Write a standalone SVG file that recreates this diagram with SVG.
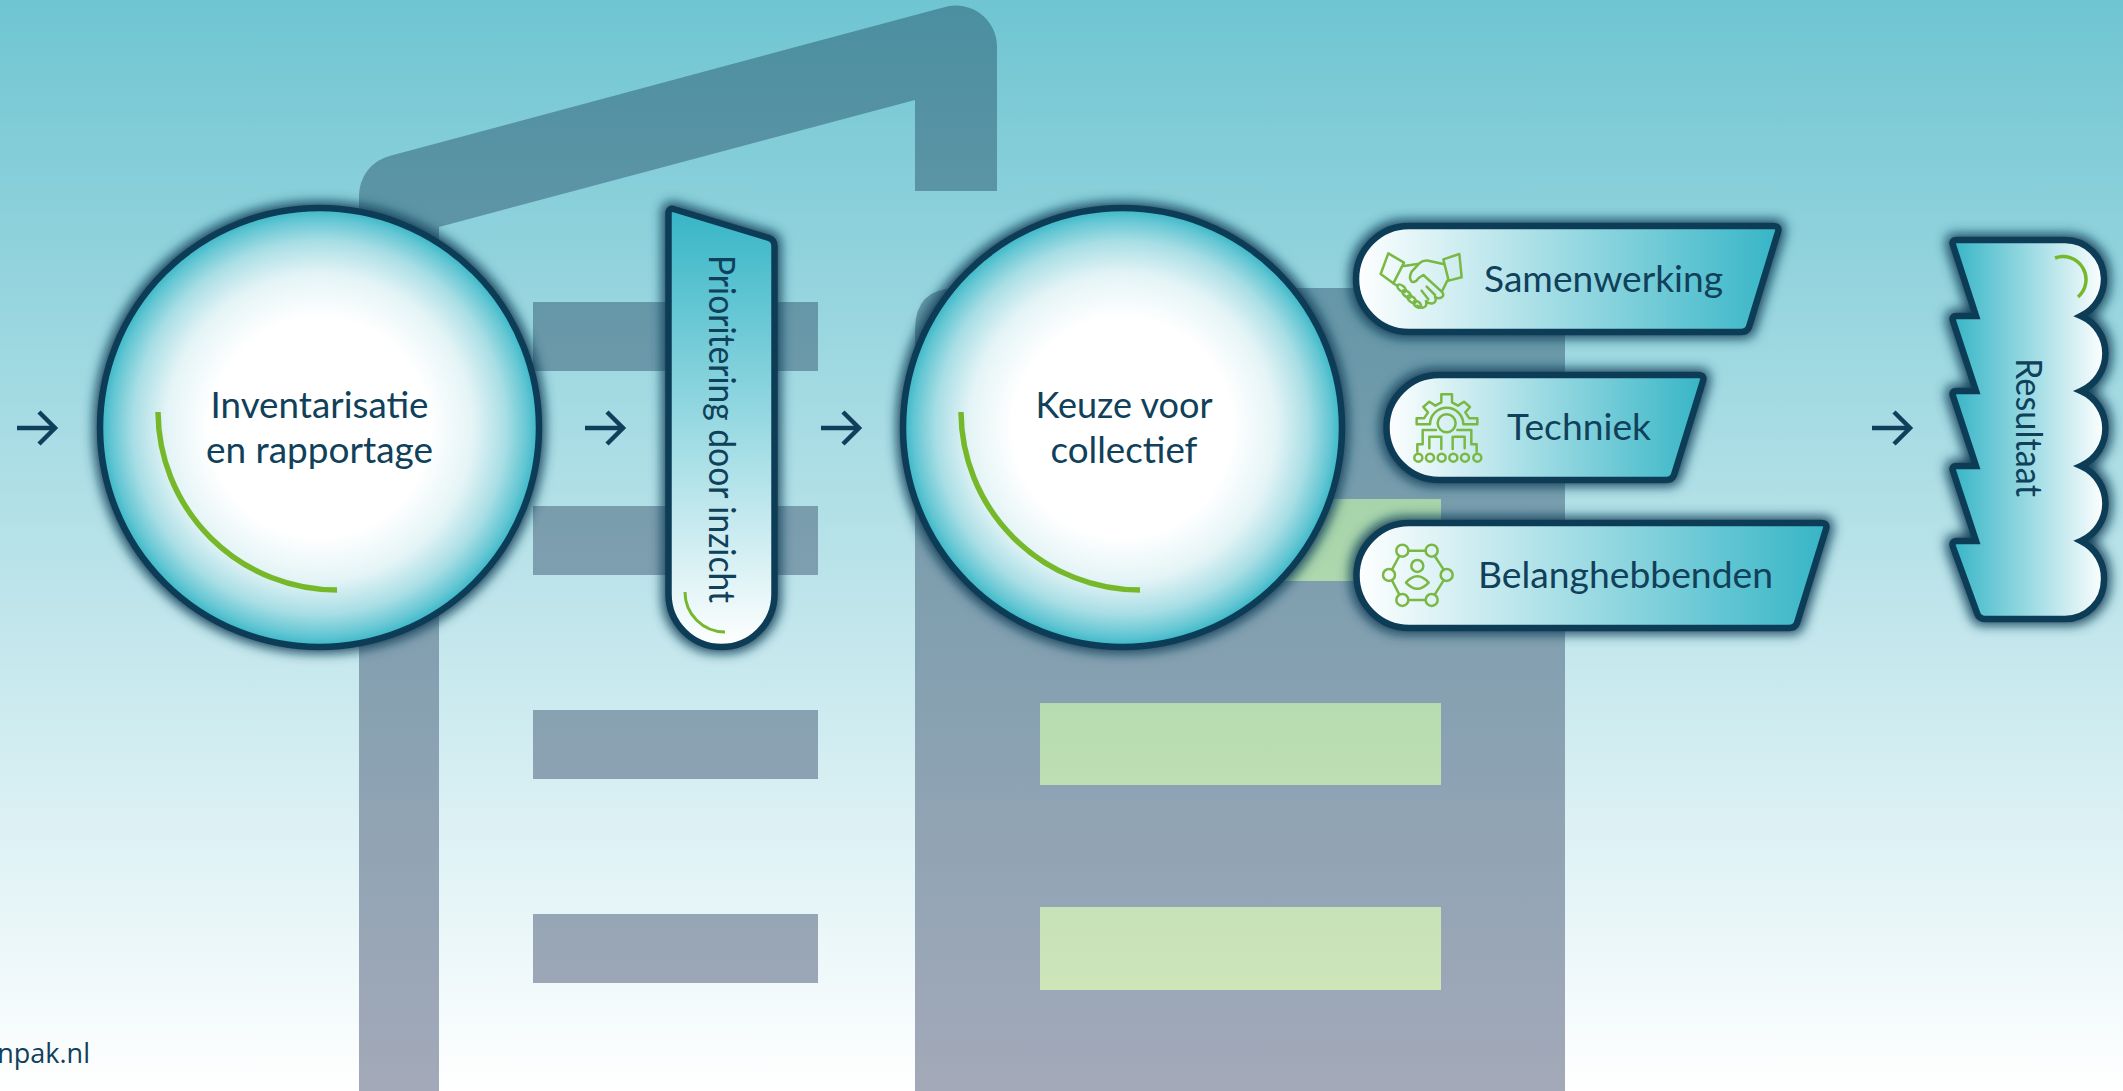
<svg xmlns="http://www.w3.org/2000/svg" width="2123" height="1091" viewBox="0 0 2123 1091">
<defs>
<linearGradient id="bg" x1="0" y1="0" x2="0" y2="1"><stop offset="0" stop-color="#6fc5d2"/><stop offset="1" stop-color="#ffffff"/></linearGradient>
<linearGradient id="bld" gradientUnits="userSpaceOnUse" x1="0" y1="0" x2="0" y2="1091"><stop offset="0" stop-color="#4a8fa0"/><stop offset=".5" stop-color="#7c9eae"/><stop offset="1" stop-color="#a3a9b9"/></linearGradient>
<linearGradient id="grn" gradientUnits="userSpaceOnUse" x1="0" y1="490" x2="0" y2="1000"><stop offset="0" stop-color="#a6d4aa"/><stop offset="1" stop-color="#cfe5ba"/></linearGradient>
<radialGradient id="disc"><stop offset=".5" stop-color="#fff"/><stop offset=".7" stop-color="#e4f4f6"/><stop offset=".85" stop-color="#a8deE5"/><stop offset=".95" stop-color="#62c6d3"/><stop offset="1" stop-color="#36b5c6"/></radialGradient>
<linearGradient id="tagH"><stop offset="0" stop-color="#fff"/><stop offset="1" stop-color="#36b5c6"/></linearGradient>
<linearGradient id="tagV" x1="0" y1="0" x2="0" y2="1"><stop offset="0" stop-color="#36b5c6"/><stop offset="1" stop-color="#fff"/></linearGradient>
<linearGradient id="tagR"><stop offset="0" stop-color="#36b5c6"/><stop offset="1" stop-color="#fff"/></linearGradient>
<filter id="glow" x="-30%" y="-30%" width="160%" height="160%"><feMorphology in="SourceAlpha" operator="dilate" radius="2.500" result="d"/><feGaussianBlur in="d" stdDeviation="6" result="b"/><feFlood flood-color="#0f3d57" flood-opacity=".95"/><feComposite in2="b" operator="in" result="s"/><feMerge><feMergeNode in="s"/><feMergeNode in="SourceGraphic"/></feMerge></filter>
<marker id="head" markerUnits="userSpaceOnUse" markerWidth="30" markerHeight="40" refX="19" refY="18" orient="auto"><path d="M3 2L19 18L3 34" fill="none" stroke="#0f3f5a" stroke-width="4.500"/></marker>
</defs>
<style>
.shape{stroke:#0f3d57;stroke-width:6.500;stroke-linejoin:round;filter:url(#glow)}
.t{font-family:Lato,"Liberation Sans",sans-serif;font-size:36px;fill:#10405a}
.m{text-anchor:middle}
.b{fill:url(#bld)}
.w{fill:url(#grn)}
.arc{fill:none;stroke:#76b82a;stroke-width:5.5}
.ico{fill:none;stroke:#7ab844;stroke-width:7.5;stroke-linejoin:round;stroke-linecap:round}
.arr{fill:none;stroke:#0f3f5a;stroke-width:4.500;marker-end:url(#head)}
</style>
<rect width="2123" height="1091" fill="url(#bg)"/>
<g id="building">
<path class="b" d="M359 1091V196A41 41 0 0 1 389.400 156L945 7A41 41 0 0 1 997 46V191H915V100L439 227V1091Z"/>
<rect class="b" x="533" y="302" width="285" height="69"/>
<rect class="b" x="533" y="506" width="285" height="69"/>
<rect class="b" x="533" y="710" width="285" height="69"/>
<rect class="b" x="533" y="914" width="285" height="69"/>
<path class="b" d="M915 1091V330Q915 288 957 288H1565V1091Z"/>
<rect class="w" x="1040" y="499" width="401" height="82"/>
<rect class="w" x="1040" y="703" width="401" height="82"/>
<rect class="w" x="1040" y="907" width="401" height="83"/>
</g>
<text class="t" x="90" y="1063" text-anchor="end" style="font-family:'Open Sans',sans-serif;font-size:27px">npak.nl</text>
<g id="connectors">
<path class="arr" d="M17 428H55"/>
<path class="arr" d="M585 428H623"/>
<path class="arr" d="M821 428H859"/>
<path class="arr" d="M1872 428H1910"/>
</g>
<g id="node-inventarisatie">
<circle class="shape" cx="319.5" cy="427.5" r="219.5" fill="url(#disc)"/>
<path class="arc" d="M158 412A179 179 0 0 0 337 590"/>
<text class="t m" x="319.5" y="418" textLength="218" lengthAdjust="spacingAndGlyphs">Inventarisatie</text>
<text class="t m" x="319.5" y="463" textLength="227" lengthAdjust="spacingAndGlyphs">en rapportage</text>
</g>
<g id="node-prioritering">
<path class="shape" fill="url(#tagV)" d="M668.5 214Q668.5 207 675 209.5L769 238Q774.5 240 774.5 246V594A53 53 0 0 1 668.5 594Z"/>
<path class="arc" style="stroke-width:3" d="M685 592A40 40 0 0 0 725 632"/>
<text class="t" transform="translate(709 255) rotate(90)" textLength="348" lengthAdjust="spacingAndGlyphs">Prioritering door inzicht</text>
</g>
<g id="node-keuze">
<circle class="shape" cx="1122.5" cy="427.5" r="219.5" fill="url(#disc)"/>
<path class="arc" d="M961 412A179 179 0 0 0 1140 590"/>
<text class="t m" x="1124" y="418" textLength="177" lengthAdjust="spacingAndGlyphs">Keuze voor</text>
<text class="t m" x="1124" y="463" textLength="147" lengthAdjust="spacingAndGlyphs">collectief</text>
</g>
<g id="node-samenwerking">
<path class="shape" fill="url(#tagH)" d="M1409 226H1773Q1780 226 1778 232L1749 327Q1747 332 1741 332H1409A53 53 0 0 1 1409 226Z"/>
<g class="ico" transform="translate(1360 240) scale(.3333)">
<path d="M85 40L132 68L100 130L62 102Z"/>
<path d="M250 58L298 42L305 112L266 122Z"/>
<path d="M132 78L172 72"/>
<path d="M250 72L205 62Q190 60 178 70L155 95Q145 115 155 125Q165 130 175 115L190 105L245 155Q255 165 245 172Q235 178 225 170Q232 185 218 190Q208 193 198 183Q203 200 188 203Q180 203 172 197"/>
<path d="M262 122L247 152"/>
<path d="M100 130L112 138"/>
<path d="M200 140L225 165M185 152L205 178"/>
<ellipse cx="125" cy="145" rx="15" ry="8" transform="rotate(40 125 145)"/>
<ellipse cx="140" cy="162" rx="15" ry="8" transform="rotate(40 140 162)"/>
<ellipse cx="155" cy="178" rx="15" ry="8" transform="rotate(40 155 178)"/>
<ellipse cx="172" cy="193" rx="13" ry="8" transform="rotate(40 172 193)"/>
</g>
<text class="t" x="1484" y="292" textLength="239" lengthAdjust="spacingAndGlyphs">Samenwerking</text>
</g>
<g id="node-techniek">
<path class="shape" fill="url(#tagH)" d="M1439 375H1698Q1705 375 1703 381L1674 475Q1672 480 1666 480H1439A52.500 52.500 0 0 1 1439 375Z"/>
<g class="ico" transform="translate(1400 385) scale(.3333)">
<path d="M50 118V100H72L84 82L70 66L88 50L106 62L124 52V28H156V52L174 62L192 50L210 66L196 82L208 100H232V118H190A50 50 0 0 0 90 118Z"/>
<circle cx="140" cy="115" r="27"/>
<path d="M108 135H68V178H52V200M118 155H88V190M124 155V192M158 155V192M164 155H194V190M172 135H214V178H230V200"/>
<circle cx="55" cy="218" r="12"/><circle cx="90" cy="218" r="12"/><circle cx="125" cy="218" r="12"/><circle cx="160" cy="218" r="12"/><circle cx="195" cy="218" r="12"/><circle cx="232" cy="218" r="12"/>
</g>
<text class="t" x="1507" y="440" textLength="144" lengthAdjust="spacingAndGlyphs">Techniek</text>
</g>
<g id="node-belanghebbenden">
<path class="shape" fill="url(#tagH)" d="M1409 523H1821Q1828 523 1826 529L1797 623Q1795 628 1789 628H1409A52.500 52.500 0 0 1 1409 523Z"/>
<g class="ico" transform="translate(1370 530) scale(.3333)">
<circle cx="97" cy="62" r="18"/><circle cx="185" cy="62" r="18"/><circle cx="57" cy="135" r="18"/><circle cx="230" cy="135" r="18"/><circle cx="97" cy="210" r="18"/><circle cx="185" cy="210" r="18"/>
<path d="M115 62H167M194 78L221 119M221 151L194 194M167 210H115M88 194L66 151M66 119L88 78"/>
<circle cx="142" cy="108" r="18"/>
<path d="M108 158Q142 120 176 158Q142 195 108 158Z"/>
</g>
<text class="t" x="1478" y="588" textLength="295" lengthAdjust="spacingAndGlyphs">Belanghebbenden</text>
</g>
<g id="node-resultaat">
<path class="shape" style="stroke-linejoin:miter;stroke-miterlimit:8" fill="url(#tagR)" d="M1953 245Q1951 240 1957 240H2065A39 39 0 0 1 2104 278A41 41 0 0 1 2081 316A41 41 0 0 1 2081 391A41 41 0 0 1 2081 466A41 41 0 0 1 2081 541A41 41 0 0 1 2104 580A39 39 0 0 1 2065 619H1985Q1979 619 1977 613L1953 547Q1951 541 1957 541H1976L1953 471Q1951 466 1957 466H1976L1953 396Q1951 391 1957 391H1976L1953 321Q1951 316 1957 316H1976Z"/>
<path class="arc" style="stroke-width:3.500" d="M2055 258A23 23 0 0 1 2078 297"/>
<text class="t" transform="translate(2016 358) rotate(90)" textLength="139" lengthAdjust="spacingAndGlyphs">Resultaat</text>
</g>
</svg>
